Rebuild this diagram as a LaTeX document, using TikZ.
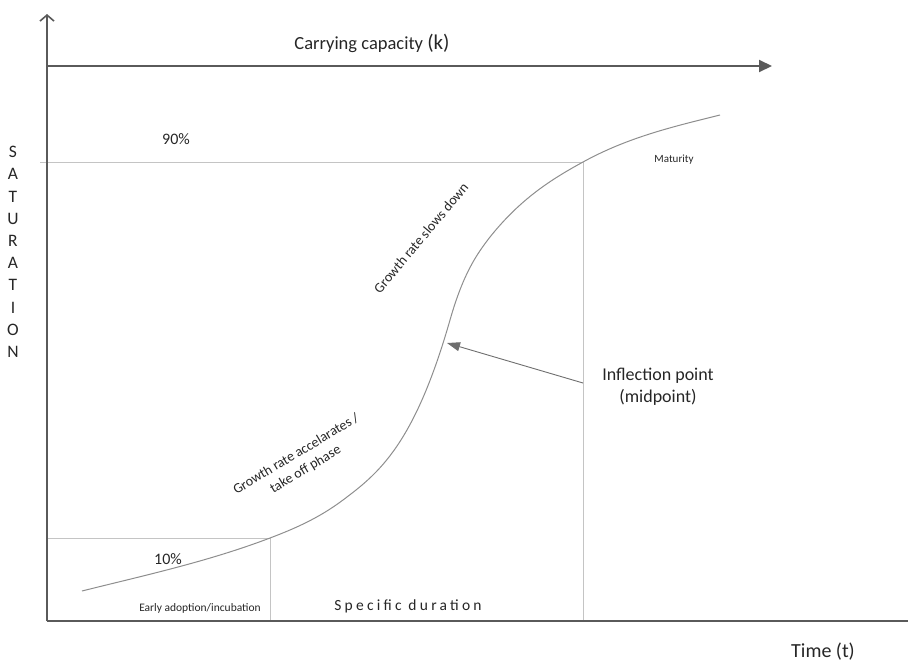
\documentclass[tikz,border=0pt]{standalone}
\usepackage{fontspec}
\setmainfont{Carlito}
\usetikzlibrary{arrows.meta}
\definecolor{axisgray}{HTML}{5A5A5A}
\definecolor{guidegray}{HTML}{C4C4C4}
\definecolor{curvegray}{HTML}{8E8E8E}
\definecolor{pointergray}{HTML}{6E6E6E}
\definecolor{txt}{HTML}{262626}
\begin{document}
\begin{tikzpicture}[x=1pt,y=-1pt,
  axisline/.style={draw=axisgray,line width=2pt},
  guideline/.style={draw=guidegray,line width=1pt},
  curveline/.style={draw=curvegray,line width=1pt},
  pointer/.style={draw=pointergray,line width=0.9pt,-{Triangle[length=13pt,width=9pt]}},
  lbl/.style={inner sep=0pt,text=txt,font=\fontsize{#1}{#1}\selectfont},
  lbl/.default=14]
\useasboundingbox (0,0) rectangle (908,662);
% key coordinates
\coordinate (ytop) at (47,14);
\coordinate (origin) at (47,621);
\coordinate (xend) at (908,621);
\coordinate (kstart) at (47,66);
\coordinate (kend) at (772,66);
\coordinate (l90start) at (40,162);
\coordinate (p90) at (583,162);
\coordinate (l10start) at (47,538);
\coordinate (p10) at (270,538);
\coordinate (b10) at (270,621);
\coordinate (b90) at (583,621);
\coordinate (arrstart) at (583,383);
\coordinate (arrtip) at (447,343);
\coordinate (cstart) at (82,591);
\coordinate (cend) at (720,115);
% guide lines
\draw[guideline] (l90start) -- (p90) -- (b90);
\draw[guideline] (l10start) -- (p10) -- (b10);
% curve (Hermite segments as cubic Beziers)
\draw[curveline] (cstart)
  .. controls (144.67,575.3) and (207.33,561.8) .. (p10)
  .. controls (294.33,528.75) and (318.67,518.25) .. (343,500)
  .. controls (378.67,473.25) and (414.33,444.8) .. (450,320)
  .. controls (463.33,273.3) and (476.67,254.3) .. (490,237)
  .. controls (521,198.25) and (552,179) .. (p90)
  .. controls (628.7,136.9) and (674.3,126.4) .. (cend);
% axes
\draw[axisline,-{Straight Barb[length=6pt,width=14pt,line width=1.6pt]}] (origin) -- (ytop);
\draw[axisline] (origin) -- (xend);
\draw[axisline,-{Triangle[length=13pt,width=12pt]}] (kstart) -- (kend);
% pointer arrow
\draw[pointer] (arrstart) -- (arrtip);
% labels
\node[lbl=18.5] (cap) at (372,43) {Carrying capacity {\fontsize{21}{21}\selectfont(k)}};
\node[lbl=17.5,align=center,font=\fontsize{17.5}{22.2}\selectfont] (sat) at (13,252) {S\\A\\T\\U\\R\\A\\T\\I\\O\\N};
\node[lbl=16] (n90) at (176,139) {90\%};
\node[lbl=16] (n10) at (168,559) {10\%};
\node[lbl=11] (mat) at (674,160) {Maturity};
\node[lbl=11.5] (early) at (200,608) {Early adoption/incubation};
\node[lbl=15.5] (spec) at (408,606) {\addfontfeatures{LetterSpace=21}Specific duration};
\node[lbl=20] (time) at (823,652) {Time (t)};
\node[lbl=18,align=center,font=\fontsize{18}{22}\selectfont] (infl) at (658,387) {Inflection point\\(midpoint)};
\node[lbl=14,rotate=50] (slow) at (421,238) {Growth rate slows down};
\node[lbl=14,align=center,rotate=31,font=\fontsize{14}{18}\selectfont] (accel) at (301,462) {Growth rate accelarates /\\take off phase};
\end{tikzpicture}
\end{document}
